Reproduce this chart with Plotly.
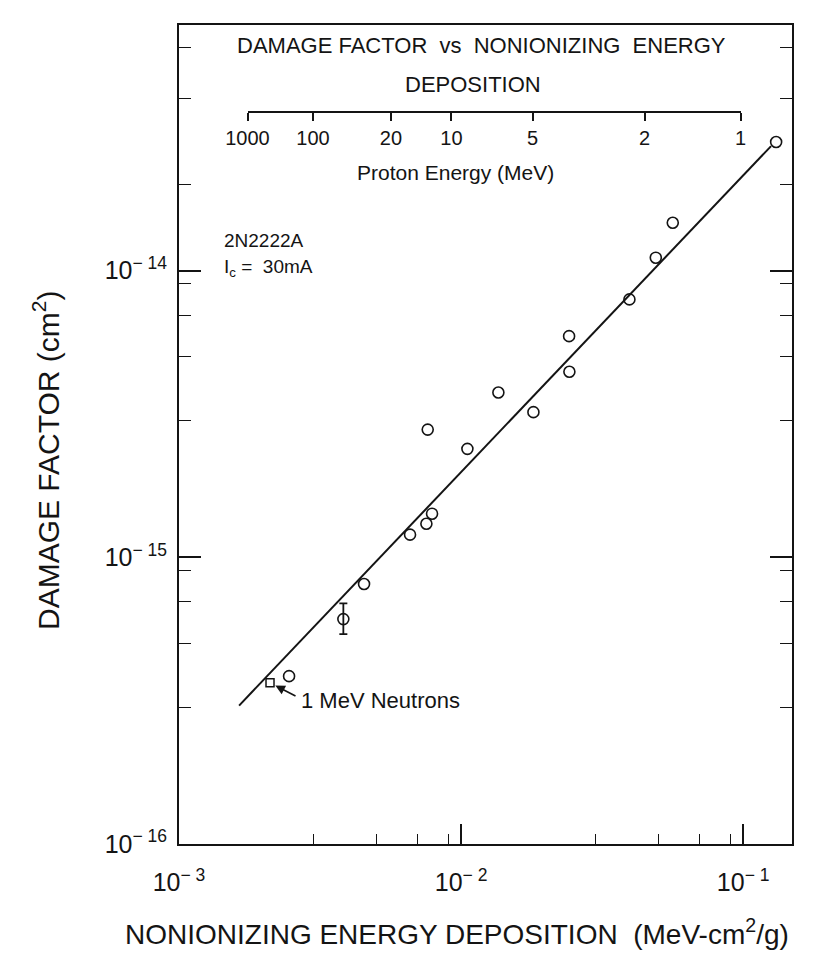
import math
import plotly.graph_objects as go

# ---------------- data ----------------
niel = [0.1309, 0.0563, 0.04901, 0.03952, 0.02415, 0.02421, 0.01356, 0.01805,
        0.007616, 0.01053, 0.00789, 0.007534, 0.006593, 0.004529, 0.002456]
damage = [2.81e-14, 1.47e-14, 1.11e-14, 7.94e-15, 5.91e-15, 4.44e-15, 3.76e-15, 3.21e-15,
          2.79e-15, 2.39e-15, 1.42e-15, 1.31e-15, 1.20e-15, 8.07e-16, 3.85e-16]

err_niel = [0.003825]
err_damage = [6.09e-16]
err_plus = [0.82e-16]
err_minus = [0.69e-16]

neutron_niel = [0.002102]
neutron_damage = [3.65e-16]

fit_niel = [0.001633, 0.1256]
fit_damage = [3.04e-16, 2.72e-14]

proton_labels = ["1000", "100", "20", "10", "5", "2", "1"]
proton_niel = [1.75e-3, 2.987e-3, 5.646e-3, 9.25e-3, 0.01793, 0.04474, 0.09797]

x_major = [1e-3, 1e-2, 1e-1]
x_major_text = ["10<sup>\u2212 3</sup>", "10<sup>\u2212 2</sup>", "10<sup>\u2212 1</sup>"]
x_minor = [3e-3, 5e-3, 7e-3, 9e-3, 3e-2, 5e-2, 7e-2, 9e-2]
y_major = [1e-16, 1e-15, 1e-14]
y_major_text = ["10<sup>\u2212 16</sup>", "10<sup>\u2212 15</sup>", "10<sup>\u2212 14</sup>"]
y_minor = [3e-16, 5e-16, 7e-16, 9e-16, 3e-15, 5e-15, 7e-15, 9e-15, 2e-14, 4e-14, 6e-14]

# ---------------- figure ----------------
# the page body adds an 8 px offset, so the figure is 8 px smaller and shifted
OFF = 8
W, H = 814 - OFF, 960 - OFF
L, R, T, B = 179 - OFF, 792 - OFF, 25 - OFF, 844 - OFF
FONT = "Liberation Sans, Arial, Helvetica, sans-serif"
INK = "#141414"


def px(xp):
    """screen x (reference pixel) -> paper x"""
    return (xp - OFF - L) / (R - L)


def py(yp):
    """screen y (reference pixel) -> paper y"""
    return (B - (yp - OFF)) / (B - T)


fig = go.Figure()

fig.add_trace(go.Scatter(x=fit_niel, y=fit_damage, mode="lines",
                         line=dict(color=INK, width=2), showlegend=False, hoverinfo="skip"))
fig.add_trace(go.Scatter(x=niel, y=damage, mode="markers",
                         marker=dict(symbol="circle-open", size=11, color=INK, line=dict(width=1.6)),
                         showlegend=False))
fig.add_trace(go.Scatter(x=err_niel, y=err_damage, mode="markers",
                         marker=dict(symbol="circle-open", size=11, color=INK, line=dict(width=1.6)),
                         error_y=dict(type="data", symmetric=False, array=err_plus, arrayminus=err_minus,
                                      color=INK, thickness=1.8, width=4),
                         showlegend=False))
fig.add_trace(go.Scatter(x=neutron_niel, y=neutron_damage, mode="markers",
                         marker=dict(symbol="square-open", size=8, color=INK, line=dict(width=1.5)),
                         showlegend=False))
# invisible carrier for the proton-energy axis
fig.add_trace(go.Scatter(x=proton_niel, y=[fit_damage[0]] * len(proton_niel), xaxis="x2", yaxis="y",
                         mode="markers", marker=dict(opacity=0), showlegend=False, hoverinfo="skip"))

fig.update_layout(
    width=W, height=H,
    margin=dict(l=L, r=W - R, t=T, b=H - B),
    paper_bgcolor="white", plot_bgcolor="rgba(0,0,0,0)",
    font=dict(family=FONT, color=INK),
    showlegend=False,
    xaxis=dict(type="log", range=[-3, math.log10(0.149)],
               showline=True, linecolor=INK, linewidth=2, mirror=True,
               showgrid=False, zeroline=False,
               tickmode="array", tickvals=x_major, ticktext=x_major_text,
               ticks="inside", ticklen=20, tickwidth=1.6, tickcolor=INK,
               tickfont=dict(size=25, color=INK), ticklabelstandoff=15,
               minor=dict(tickmode="array", tickvals=x_minor, ticks="inside", ticklen=10,
                          tickwidth=1.4, tickcolor=INK, showgrid=False)),
    yaxis=dict(type="log", range=[-16, -13.143],
               showline=True, linecolor=INK, linewidth=2, mirror="ticks",
               showgrid=False, zeroline=False,
               tickmode="array", tickvals=y_major, ticktext=y_major_text,
               ticks="inside", ticklen=22, tickwidth=1.6, tickcolor=INK,
               tickfont=dict(size=25, color=INK), ticklabelstandoff=5,
               minor=dict(tickmode="array", tickvals=y_minor, ticks="inside", ticklen=12,
                          tickwidth=1.4, tickcolor=INK, showgrid=False)),
    xaxis2=dict(type="log", anchor="free", position=py(112),
                domain=[px(247.5), px(740.5)],
                range=[math.log10(proton_niel[0]), math.log10(proton_niel[-1])],
                side="bottom", showline=True, linecolor=INK, linewidth=1.6,
                showgrid=False, zeroline=False,
                tickmode="array", tickvals=proton_niel, ticktext=proton_labels,
                ticks="outside", ticklen=8, tickwidth=1.6, tickcolor=INK,
                tickfont=dict(size=20, color=INK)),
)

NB = "\u00a0"
anns = [
    dict(text=f"DAMAGE FACTOR{NB}{NB}vs{NB}{NB}NONIONIZING{NB}{NB}ENERGY", x=px(481), y=py(45),
         font=dict(size=22)),
    dict(text="DEPOSITION", x=px(473), y=py(85), font=dict(size=22)),
    dict(text="Proton Energy (MeV)", x=px(455), y=py(172), font=dict(size=21)),
    dict(text="2N2222A", x=px(222), y=py(241), xanchor="left", font=dict(size=19)),
    dict(text=f"I<sub>c</sub>{NB}={NB}{NB}30mA", x=px(222), y=py(268), xanchor="left", font=dict(size=19)),
    dict(text="1 MeV Neutrons", x=px(299), y=py(700), xanchor="left", font=dict(size=22)),
    dict(text=f"NONIONIZING ENERGY DEPOSITION{NB}{NB}(MeV-cm<sup>2</sup>/g)", x=px(457), y=py(932),
         font=dict(size=28)),
    dict(text="DAMAGE FACTOR (cm<sup>2</sup>)", x=px(46), y=py(460), textangle=-90, font=dict(size=30)),
]
for a in anns:
    a.setdefault("xanchor", "center")
    fig.add_annotation(xref="paper", yref="paper", showarrow=False, yanchor="middle", **a)

# arrow pointing at the 1 MeV neutron point
fig.add_annotation(x=math.log10(neutron_niel[0]), y=math.log10(neutron_damage[0]), xref="x", yref="y",
                   text="", showarrow=True, ax=27, ay=14, arrowhead=2, arrowsize=1.2,
                   arrowwidth=1.6, arrowcolor=INK, standoff=6)

fig.write_html("out.html")
